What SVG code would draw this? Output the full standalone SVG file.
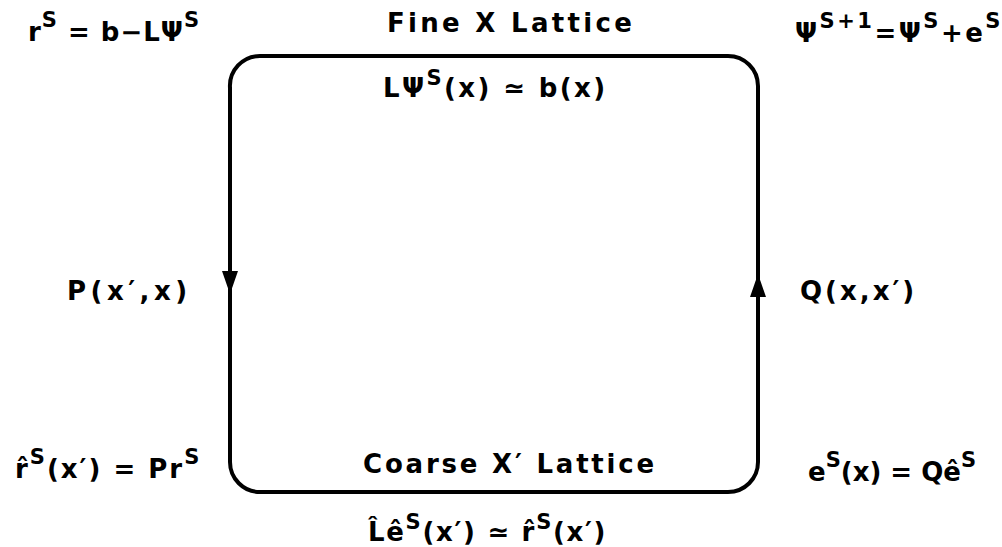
<svg xmlns="http://www.w3.org/2000/svg" width="1002" height="547" viewBox="0 0 1002 547">
<style>
text{font-family:"DejaVu Sans","Liberation Sans",sans-serif;font-weight:bold;font-size:26px;fill:#000}
.sup{font-size:21px}
.edge{fill:none;stroke:#000;stroke-width:4}
</style>
<rect width="1002" height="547" fill="#fff"/>
<g id="connectors">
<path class="edge" d="M230,88 A30,30 0 0 1 260,56 L728,56 A30,30 0 0 1 758,86 L758,462 A30,30 0 0 1 728,492 L260,492 A30,30 0 0 1 230,462 Z"/>
<path d="M222,271 L238,271 L230,294 Z" fill="#000"/>
<path d="M750,297 L766,297 L758,274 Z" fill="#000"/>
</g>
<g id="fine">
<text x="387" y="32" letter-spacing="3.3">Fine X Lattice</text>
<text x="383" y="97" letter-spacing="2.4">LΨ<tspan class="sup" dy="-12">S</tspan><tspan dy="12">(x) ≃ b(x)</tspan></text>
</g>
<g id="coarse">
<text x="363" y="473" letter-spacing="2.8">Coarse X′ Lattice</text>
<text x="368" y="541" letter-spacing="1.7">L̂ê<tspan class="sup" dy="-12">S</tspan><tspan dy="12">(x′) ≃ r̂</tspan><tspan class="sup" dy="-12">S</tspan><tspan dy="12">(x′)</tspan></text>
</g>
<g id="label-r">
<text x="28" y="41" letter-spacing="1">r<tspan class="sup" dy="-14">S</tspan><tspan dy="14"> = b−LΨ</tspan><tspan class="sup" dy="-14">S</tspan></text>
</g>
<g id="label-psi">
<text x="795" y="42" letter-spacing="2.5">Ψ<tspan class="sup" dy="-14">S+1</tspan><tspan dy="14">=Ψ</tspan><tspan class="sup" dy="-14">S</tspan><tspan dy="14">+e</tspan><tspan class="sup" dy="-14">S</tspan></text>
</g>
<g id="label-P">
<text x="67" y="300" letter-spacing="4.5">P(x′,x)</text>
</g>
<g id="label-Q">
<text x="800" y="300" letter-spacing="3">Q(x,x′)</text>
</g>
<g id="label-rhat">
<text x="15" y="478" letter-spacing="2">r̂<tspan class="sup" dy="-14">S</tspan><tspan dy="14">(x′) = Pr</tspan><tspan class="sup" dy="-14">S</tspan></text>
</g>
<g id="label-e">
<text x="808" y="481" letter-spacing="0">e<tspan class="sup" dy="-14">S</tspan><tspan dy="14">(x) = Qê</tspan><tspan class="sup" dy="-14">S</tspan></text>
</g>
</svg>
